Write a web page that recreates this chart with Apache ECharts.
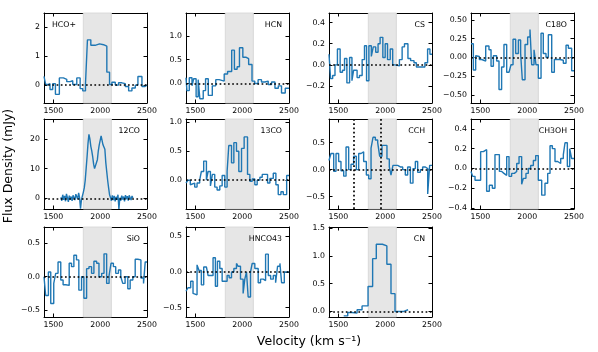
<!DOCTYPE html>
<html><head><meta charset="utf-8">
<script src="https://cdn.jsdelivr.net/npm/echarts@6/dist/echarts.min.js"></script>
<style>html,body{margin:0;padding:0;background:#fff}#c{width:598px;height:352px}</style>
</head><body><div id="c"></div>
<script>
// ---- data: left bin edges (km/s) and flux densities (mJy) ----
const hcopV = [1400,1418,1440,1464,1493,1522,1564,1607,1643,1679,1707,1750,1786,1814,1843,1864,1900,1946,1993,2036,2071,2100,2125,2161,2196,2232,2268,2304,2339,2375,2403,2446,2475];
const hcopF = [0.30,0.02,0.05,-0.15,0.05,-0.32,0.25,0.20,0.12,0.15,0.02,0.25,-0.12,-0.20,0.05,1.57,1.38,1.43,1.40,1.35,0.45,0.02,0.10,0.00,0.08,0.05,-0.05,-0.20,-0.10,0.00,0.30,-0.05,0.00];

const hcnV = [1400,1410,1435,1464,1482,1508,1530,1548,1584,1609,1638,1681,1718,1754,1808,1844,1888,1917,1946,1971,2007,2043,2069,2105,2134,2170,2206,2242,2278,2314,2350,2386,2420,2460];
const hcnF = [0.12,-0.15,0.12,-0.05,0.10,-0.28,0.08,-0.32,-0.15,0.10,-0.25,-0.05,0.08,0.05,0.20,0.25,0.70,0.30,0.35,0.75,0.55,0.52,0.40,0.05,0.00,0.08,0.03,0.05,-0.02,0.03,-0.10,-0.05,-0.20,-0.10];

const csV = [1400,1417,1439,1464,1490,1519,1544,1566,1591,1620,1645,1663,1700,1725,1754,1779,1801,1826,1852,1873,1899,1924,1946,1975,2000,2025,2054,2080,2105,2152,2181,2206,2243,2272,2308,2333,2369,2424,2453,2478];
const csF = [0.10,-0.13,-0.10,0.00,0.15,-0.07,-0.05,0.06,-0.17,0.07,-0.15,-0.05,-0.12,-0.10,0.05,0.18,-0.15,0.18,0.08,0.17,0.12,0.20,0.26,0.07,0.20,0.05,0.15,0.00,-0.01,0.05,0.17,0.20,0.06,0.04,0.02,-0.02,-0.02,0.02,0.15,0.10];

const c18oV = [1400,1425,1450,1471,1489,1514,1557,1592,1614,1639,1674,1699,1727,1752,1781,1806,1827,1849,1877,1906,1930,1948,1977,2005,2030,2048,2073,2094,2119,2148,2172,2201,2226,2262,2290,2350,2386,2415,2440,2475];
const c18oF = [0.18,-0.17,0.02,0.01,-0.03,-0.05,0.15,0.10,-0.12,0.02,-0.05,-0.43,-0.13,0.17,-0.20,-0.18,-0.10,0.24,0.05,0.23,0.05,-0.30,0.17,0.27,0.37,-0.10,0.10,-0.10,-0.28,0.32,0.05,0.00,0.30,-0.20,-0.03,-0.04,-0.08,0.16,0.12,-0.18];

const co12V = [1580,1590,1600,1610,1620,1630,1640,1650,1660,1670,1680,1690,1700,1710,1720,1730,1740,1750,1760,1770,1780,1790,1800,1810,1820,1830,1840,1850,1860,1870,1880,1890,1900,1910,1920,1930,1940,1950,1960,1970,1980,1990,2000,2010,2020,2030,2040,2050,2060,2070,2080,2090,2100,2110,2120,2130,2140,2150,2160,2170,2180,2190,2200,2210,2220,2230,2240,2250,2260,2270,2280,2290,2300,2310,2320,2330,2340,2350];
const co12F = [0.3,-0.8,1.2,-0.5,0.8,-1.0,1.5,0.2,-1.2,0.9,-0.4,0.6,-0.9,1.0,0.3,-0.6,1.4,0.5,-0.3,1.8,0.2,-3.5,-0.5,0.8,2.0,3.5,6.0,10.0,14.0,18.5,21.5,20.0,17.5,16.0,14.0,11.5,10.0,9.6,10.5,13.0,16.0,18.0,19.5,21.0,19.5,18.0,17.5,16.5,12.0,9.0,6.0,3.5,1.2,0.3,-0.8,1.0,-0.6,0.8,-1.0,0.5,-0.5,1.2,-3.6,0.2,-0.8,0.9,-0.4,0.6,-1.0,1.1,-0.3,0.7,-0.8,1.0,0.2,-0.6,0.8,0.1];

const co13V = [1400,1421,1446,1464,1493,1518,1546,1564,1589,1618,1636,1661,1682,1707,1732,1761,1786,1814,1839,1857,1886,1911,1939,1964,1993,2021,2057,2082,2107,2135,2160,2189,2214,2243,2271,2296,2332,2360,2385,2414,2439,2475];
const co13F = [-0.05,0.00,-0.08,-0.05,-0.12,-0.05,0.00,0.15,0.33,0.00,0.15,-0.10,0.10,-0.12,-0.17,-0.10,0.08,-0.12,0.15,0.60,0.30,0.65,0.50,0.15,0.55,0.75,0.10,-0.02,0.02,-0.08,0.00,0.05,0.10,0.10,-0.05,0.03,0.12,-0.08,-0.25,-0.20,-0.25,0.08];

const cchV = [1400,1421,1450,1475,1503,1528,1557,1582,1610,1635,1663,1692,1717,1742,1770,1799,1824,1849,1870,1895,1920,1941,1966,1991,2019,2044,2062,2083,2108,2133,2162,2187,2215,2240,2269,2297,2322,2347,2375,2400,2429,2454,2475];
const cchF = [0.17,0.30,-0.03,0.30,0.15,-0.02,-0.12,0.42,0.00,0.10,0.25,0.00,0.30,0.33,0.15,-0.10,-0.17,0.40,0.60,0.55,0.50,0.25,0.45,0.45,0.20,0.05,-0.10,0.08,0.08,0.05,0.05,0.00,-0.10,0.05,-0.25,0.02,0.15,-0.05,0.00,0.05,0.02,-0.45,0.08];
const cchLines = [1662, 1958];

const ch3ohV = [1400,1418,1443,1503,1532,1567,1596,1628,1656,1703,1728,1752,1781,1806,1834,1863,1888,1913,1941,1959,1987,2012,2037,2066,2091,2119,2155,2190,2219,2244,2269,2297,2326,2358,2386,2404,2429,2454,2475];
const ch3ohF = [-0.03,-0.08,-0.12,0.17,0.19,-0.23,-0.17,-0.20,0.14,-0.03,-0.05,-0.07,0.12,-0.08,-0.05,-0.03,0.05,0.12,-0.16,-0.10,-0.05,0.00,0.03,0.08,0.13,-0.12,-0.27,-0.15,-0.05,0.23,0.20,0.07,0.05,0.10,0.14,0.26,0.02,0.20,0.10];

const sioV = [1400,1418,1447,1472,1504,1525,1550,1579,1604,1633,1669,1694,1719,1747,1772,1801,1826,1855,1880,1908,1933,1962,1987,2016,2041,2069,2095,2116,2141,2166,2195,2220,2241,2266,2295,2320,2349,2374,2402,2435,2463,2481];
const sioF = [0.00,-0.28,0.07,-0.40,-0.10,0.05,0.22,-0.05,-0.12,-0.13,0.20,0.15,0.32,0.25,-0.20,0.00,-0.32,0.12,0.15,0.05,0.23,0.20,0.00,0.05,0.34,-0.10,0.02,0.20,0.15,0.05,0.10,0.00,-0.10,0.00,-0.18,-0.05,0.00,0.26,0.25,-0.02,-0.10,0.22];

const hncoV = [1400,1421,1450,1475,1493,1518,1539,1564,1589,1618,1636,1661,1689,1714,1736,1761,1786,1814,1839,1861,1886,1911,1939,1957,1982,2010,2028,2046,2064,2089,2107,2135,2171,2196,2225,2250,2279,2304,2332,2357,2378,2403,2421,2450,2475];
const hncoF = [-0.27,-0.22,-0.13,-0.30,-0.32,0.10,0.02,-0.18,0.07,0.07,-0.05,-0.05,0.20,-0.20,0.15,0.05,-0.13,-0.13,-0.05,-0.08,0.00,0.05,0.12,0.08,-0.10,-0.30,-0.10,0.00,-0.35,0.00,0.12,0.05,-0.15,-0.10,-0.12,0.25,-0.05,-0.10,-0.05,-0.15,0.08,0.12,-0.15,0.00,0.00];

const cnV = [1557,1600,1646,1700,1753,1817,1866,1905,1971,2018,2062,2105,2152,2198];
const cnF = [-0.08,-0.02,-0.03,0.03,0.10,0.45,0.95,1.21,1.18,0.85,0.32,0.00,0.00,0.03];
const cnEnd = 2245;

const xTicks = [1500, 2000, 2500];
const shade = [1820, 2120];

// ---- layout ----
const colLeft = [44, 186, 329, 471];
const rowTop = [13, 119, 227];
const PW = 103, PH = 90;
const FONT = 'DejaVu Sans';
const TICK_FS = 7.8;

const panels = [
  {name:'HCO+',  r:0,c:0, v:hcopV, f:hcopF, end:2500, min:-0.62, max:2.5,  ticks:[0,1,2], dec:0, leftLabel:true},
  {name:'HCN',   r:0,c:1, v:hcnV,  f:hcnF,  end:2500, min:-0.41, max:1.48, ticks:[0,0.5,1.0], dec:1},
  {name:'CS',    r:0,c:2, v:csV,   f:csF,   end:2500, min:-0.36, max:0.49, ticks:[-0.2,0,0.2,0.4], dec:1},
  {name:'C18O',  r:0,c:3, v:c18oV, f:c18oF, end:2500, min:-0.61, max:0.59, ticks:[-0.5,-0.25,0,0.25,0.5], dec:2},
  {name:'12CO',  r:1,c:0, v:co12V, f:co12F, end:null, min:-3.6,  max:26.7, ticks:[0,10,20], dec:0, noStep:true},
  {name:'13CO',  r:1,c:1, v:co13V, f:co13F, end:2500, min:-0.5,  max:1.06, ticks:[0,0.5,1.0], dec:1},
  {name:'CCH',   r:1,c:2, v:cchV,  f:cchF,  end:2500, min:-0.73, max:0.94, ticks:[-0.5,0,0.5], dec:1, vlines:cchLines},
  {name:'CH3OH', r:1,c:3, v:ch3ohV,f:ch3ohF,end:2500, min:-0.41, max:0.5,  ticks:[-0.4,-0.2,0,0.2,0.4], dec:1},
  {name:'SiO',   r:2,c:0, v:sioV,  f:sioF,  end:2500, min:-0.6,  max:0.74, ticks:[-0.5,0,0.5], dec:1},
  {name:'HNCO43',r:2,c:1, v:hncoV, f:hncoF, end:2500, min:-0.63, max:0.63, ticks:[-0.5,0,0.5], dec:1},
  {name:'CN',    r:2,c:2, v:cnV,   f:cnF,   end:cnEnd,min:-0.1,  max:1.52, ticks:[0,0.5,1.0,1.5], dec:1}
];

function fmt(val, dec) {
  let s = Number(val).toFixed(dec);
  if (Math.abs(val) < 1e-9) s = (0).toFixed(dec);
  return s.replace('-', '\u2212');
}

function xAx(gi, pos) {
  return {
    type:'value', gridIndex:gi, position:pos, min:1400, max:2500,
    axisLine:{show:true, onZero:false, lineStyle:{color:'#000', width:1}},
    axisTick:{show:true, inside:true, length:3.5, customValues:xTicks, lineStyle:{color:'#000', width:1}},
    axisLabel:{show:pos==='bottom', customValues:xTicks, showMinLabel:true, showMaxLabel:true, hideOverlap:false,
      fontSize:TICK_FS, fontFamily:FONT, color:'#000', margin:4,
      formatter:(v)=>String(Math.round(v))},
    splitLine:{show:false}
  };
}
function yAx(gi, pos, p) {
  return {
    type:'value', gridIndex:gi, position:pos, min:p.min, max:p.max,
    axisLine:{show:true, onZero:false, lineStyle:{color:'#000', width:1}},
    axisTick:{show:true, inside:true, length:3.5, customValues:p.ticks, lineStyle:{color:'#000', width:1}},
    axisLabel:{show:pos==='left', customValues:p.ticks, showMinLabel:true, showMaxLabel:true, hideOverlap:false,
      fontSize:TICK_FS, fontFamily:FONT, color:'#000', margin:4,
      formatter:(v)=>fmt(v, p.dec)},
    splitLine:{show:false}
  };
}

const option = {
  animation:false, backgroundColor:'#fff',
  grid:[], xAxis:[], yAxis:[], series:[], title:[], graphic:[]
};

const dotted = {color:'#000', width:1.7, type:[1.7, 2.5], cap:'butt'};

panels.forEach((p, i) => {
  const L = colLeft[p.c], T = rowTop[p.r];
  option.grid.push({left:L, top:T, width:PW, height:PH, containLabel:false, outerBoundsMode:'none'});
  option.xAxis.push(xAx(i, 'bottom'), xAx(i, 'top'));
  option.yAxis.push(yAx(i, 'left', p), yAx(i, 'right', p));
  const data = p.v.map((v, k) => [v, p.f[k]]);
  if (p.end !== null) data.push([p.end, p.f[p.f.length - 1]]);
  const mlData = [{yAxis:0}];
  (p.vlines || []).forEach(x => mlData.push({xAxis:x}));
  option.series.push({
    type:'line', xAxisIndex:2*i, yAxisIndex:2*i, data:data,
    step: p.noStep ? false : 'end',
    symbol:'none', silent:true, clip:true,
    lineStyle:{color:'#1f77b4', width:1.4},
    z:3,
    markArea:{silent:true, itemStyle:{color:'#e6e6e6', borderColor:'#d4d4d4', borderWidth:0.8},
      data:[[{xAxis:shade[0]}, {xAxis:shade[1]}]]},
    markLine:{silent:true, symbol:['none','none'], label:{show:false}, lineStyle:dotted, data:mlData}
  });
  const t = {text:p.name, top:T + 7.5, padding:0,
    textStyle:{fontSize:7.8, fontFamily:FONT, color:'#000', fontWeight:'normal'}};
  if (p.leftLabel) t.left = L + 8; else t.right = 598 - (L + PW - 7);
  option.title.push(t);
});

option.graphic.push({
  type:'text', x:9, y:166, rotation:Math.PI/2,
  style:{text:'Flux Density (mJy)', fontSize:12.5, fontFamily:FONT, fill:'#000',
    align:'center', verticalAlign:'middle', textAlign:'center', textVerticalAlign:'middle'}
});
option.graphic.push({
  type:'text', x:309, y:342,
  style:{text:'Velocity (km s\u207B\u00B9)', fontSize:12.5, fontFamily:FONT, fill:'#000',
    align:'center', verticalAlign:'middle', textAlign:'center', textVerticalAlign:'middle'}
});

const chart = echarts.init(document.getElementById('c'), null, {renderer:'canvas'});
chart.setOption(option);
</script>
</body></html>
